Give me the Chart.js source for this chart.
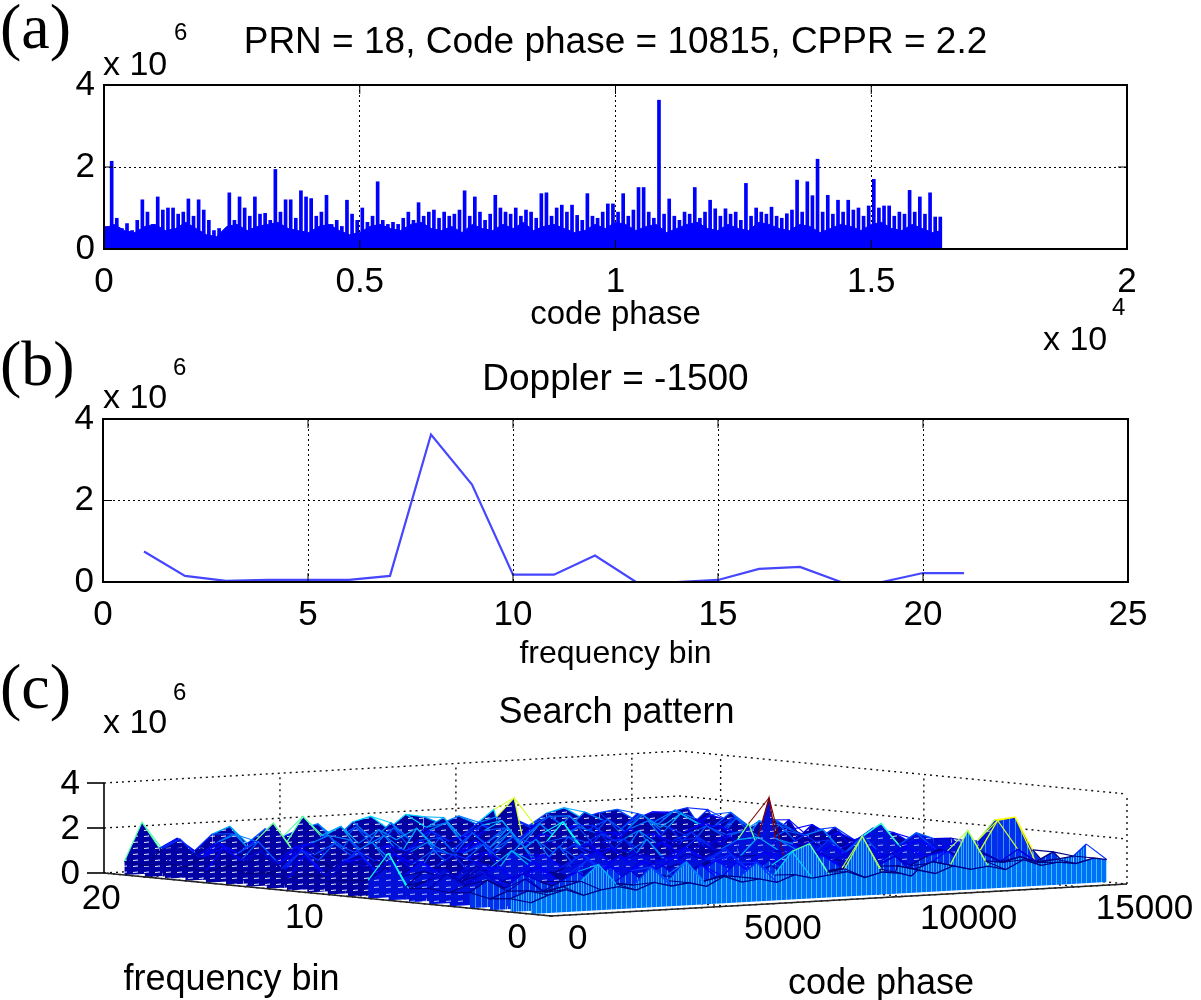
<!DOCTYPE html>
<html>
<head>
<meta charset="utf-8">
<title>PRN 18 acquisition</title>
<script src="https://cdn.jsdelivr.net/npm/chart.js@4.4.1/dist/chart.umd.min.js"></script>
<style>
  html, body { margin: 0; padding: 0; background: #fff; }
  #page { position: relative; width: 1201px; height: 1000px; overflow: hidden; font-family: "Liberation Sans", Arial, sans-serif; color: #000; }
  #page canvas { position: absolute; left: 0; }
  .tag { position: absolute; left: 0; font-family: "Liberation Serif", "Times New Roman", serif; font-size: 64px; line-height: 1; }
  .mult { position: absolute; font-size: 34px; line-height: 1; white-space: nowrap; }
  .exp { position: absolute; font-size: 24px; line-height: 1; }
</style>
</head>
<body>
<div id="page">
  <canvas id="chartA" width="1201" height="360" style="top:0"></canvas>
  <canvas id="chartB" width="1201" height="360" style="top:330px"></canvas>
  <canvas id="chartC" width="1201" height="340" style="top:660px"></canvas>

  <div class="tag" style="top:-5px">(a)</div>
  <div class="tag" style="top:332px">(b)</div>
  <div class="tag" style="top:655px">(c)</div>

  <div class="mult" style="left:103px;top:46px">x 10</div><div class="exp" style="left:174px;top:20px">6</div>
  <div class="mult" style="left:1043px;top:321px">x 10</div><div class="exp" style="left:1112px;top:295px">4</div>
  <div class="mult" style="left:103px;top:379px">x 10</div><div class="exp" style="left:173px;top:355px">6</div>
  <div class="mult" style="left:103px;top:704px">x 10</div><div class="exp" style="left:173px;top:680px">6</div>
</div>

<script>
"use strict";

/**************************************************************
 * Data (correlation values in units of 1e6)
 **************************************************************/

// (a) correlation vs code phase at Doppler bin 8, max value per 100 chips
const codeStepA = 100;
const peakA = [
  0.55, 2.14, 0.75, 0.5, 0.62, 0.45, 0.7, 1.2, 0.9, 0.6,
  1.27, 0.95, 1.0, 1.0, 0.85, 0.9, 1.22, 0.8, 1.2, 0.95,
  0.7, 0.45, 0.5, 0.4, 1.37, 0.7, 1.27, 1.0, 0.8, 1.27,
  0.85, 0.87, 0.7, 1.94, 0.9, 1.2, 1.2, 0.75, 1.42, 1.27,
  1.23, 0.8, 0.9, 1.31, 0.6, 0.7, 0.55, 1.19, 0.85, 0.7,
  1.0, 0.65, 0.8, 1.64, 0.7, 0.6, 0.65, 0.6, 0.75, 0.9,
  0.7, 1.13, 0.8, 0.9, 0.95, 0.75, 0.9, 0.8, 0.85, 0.95,
  1.42, 0.8, 1.27, 0.9, 0.7, 0.85, 1.31, 1.0, 0.9, 0.85,
  1.0, 0.8, 0.95, 0.9, 0.75, 1.35, 1.37, 0.8, 1.0, 1.07,
  0.9, 1.07, 0.82, 0.7, 1.35, 0.8, 0.75, 0.9, 1.1, 1.1,
  0.9, 1.35, 0.8, 0.95, 1.5, 1.5, 0.9, 0.75, 3.63, 0.85,
  1.22, 0.8, 0.7, 0.9, 0.85, 1.5, 0.75, 0.9, 1.19, 0.98,
  0.8, 0.98, 0.85, 0.9, 0.7, 1.6, 0.8, 1.0, 0.9, 0.85,
  1.02, 0.8, 0.75, 0.86, 0.95, 1.68, 0.9, 1.64, 1.3, 2.19,
  0.9, 1.31, 0.85, 1.19, 0.9, 1.19, 0.95, 1.0, 0.8, 1.05,
  1.7, 1.0, 1.05, 1.05, 0.8, 0.9, 0.85, 1.43, 0.9, 1.27,
  0.85, 1.37, 0.78, 0.78,
];

// (a) solid noise floor, every 200 chips
const floorStepA = 200;
const codeLength = 16368;
const floorA = [
  0.5, 0.6, 0.45, 0.4, 0.55, 0.6, 0.45, 0.5, 0.65, 0.5,
  0.35, 0.3, 0.55, 0.6, 0.45, 0.55, 0.6, 0.65, 0.5, 0.45,
  0.4, 0.55, 0.6, 0.45, 0.35, 0.4, 0.55, 0.6, 0.5, 0.45,
  0.6, 0.65, 0.5, 0.45, 0.55, 0.4, 0.6, 0.5, 0.45, 0.6,
  0.5, 0.65, 0.45, 0.55, 0.6, 0.5, 0.4, 0.45, 0.6, 0.5,
  0.65, 0.6, 0.45, 0.55, 0.6, 0.4, 0.5, 0.6, 0.65, 0.5,
  0.45, 0.6, 0.5, 0.45, 0.65, 0.6, 0.5, 0.45, 0.6, 0.55,
  0.4, 0.5, 0.6, 0.55, 0.45, 0.6, 0.65, 0.5, 0.45, 0.6,
  0.5, 0.4, 0.45,
];

// (b) correlation vs frequency bin at code phase 10815
const freqBins = [1, 2, 3, 4, 5, 6, 7, 8, 9, 10, 11, 12, 13, 14, 15, 16, 17, 18, 19, 20, 21];
const dopplerSlice = [0.75, 0.15, 0.03, 0.05, 0.05, 0.05, 0.15, 3.62, 2.39, 0.18, 0.18, 0.65, 0.0, 0.0, 0.05, 0.32, 0.37, 0.0, 0.0, 0.22, 0.22];

// (c) search pattern, one row per frequency bin, sampled code phases
const meshCodePhase = [
  0, 500, 1000, 1500, 2000, 2500, 3000, 3500, 4000, 4500, 5000, 5500,
  6000, 6500, 7000, 7500, 8000, 8500, 9000, 9500, 10000, 10500, 10815,
  11000, 11500, 12000, 12500, 13000, 13500, 14000, 14500, 15000, 15500,
  16000, 16368,
];
const meshFreqBins = freqBins;
const meshValues = [
  [0.5, 0.8, 1.0, 0.7, 0.9, 1.0, 0.8, 1.1, 0.9, 1.0, 0.8, 1.2, 0.9, 1.0, 0.8, 1.1, 0.9, 1.0, 1.1, 0.8, 1.0, 0.9, 0.75, 1.0, 0.8, 1.1, 0.9, 1.0, 0.8, 1.2, 0.9, 1.0, 0.9, 1.1, 1.0],
  [0.6, 0.9, 0.8, 1.0, 1.2, 1.9, 1.0, 0.9, 1.65, 1.0, 1.8, 0.9, 1.1, 1.0, 1.6, 1.0, 2.0, 2.3, 1.0, 1.1, 2.5, 1.0, 0.15, 1.1, 0.9, 1.2, 1.0, 2.5, 1.1, 1.0, 1.2, 0.9, 1.0, 1.1, 1.6],
  [0.5, 0.8, 1.3, 0.7, 1.1, 1.5, 0.8, 0.9, 1.4, 0.7, 1.1, 0.9, 1.5, 0.8, 1.5, 0.9, 1.3, 0.7, 1.4, 0.9, 1.0, 1.3, 0.03, 1.0, 1.4, 0.7, 1.0, 1.5, 0.8, 1.3, 0.9, 1.4, 0.8, 1.2, 0.6],
  [0.7, 1.2, 0.8, 1.4, 1.0, 0.7, 1.3, 1.0, 1.5, 0.8, 1.1, 1.4, 0.7, 1.0, 1.5, 1.0, 0.8, 1.4, 1.0, 0.7, 1.5, 1.0, 0.05, 1.3, 0.9, 1.4, 0.8, 1.2, 1.4, 0.9, 1.3, 2.6, 2.7, 1.2, 0.5],
  [0.6, 0.9, 1.4, 1.0, 0.7, 1.5, 1.0, 0.8, 1.3, 1.0, 0.7, 1.5, 1.0, 1.3, 0.8, 1.1, 1.6, 0.9, 0.8, 1.4, 1.0, 1.4, 0.05, 0.9, 1.4, 1.0, 0.7, 1.5, 1.0, 1.3, 1.0, 1.6, 2.5, 2.4, 0.6],
  [0.7, 1.3, 0.8, 1.2, 1.5, 0.8, 1.4, 1.0, 0.8, 1.6, 1.0, 0.7, 1.4, 1.0, 1.5, 0.8, 1.2, 1.4, 0.8, 1.5, 1.0, 1.2, 0.05, 1.4, 1.0, 0.8, 1.5, 1.0, 1.4, 0.8, 1.2, 1.5, 1.0, 0.9, 0.6],
  [0.6, 0.9, 1.4, 0.8, 1.3, 1.0, 0.8, 1.5, 1.0, 0.8, 1.4, 1.0, 1.5, 0.8, 1.2, 1.4, 0.7, 1.1, 1.6, 0.8, 1.2, 1.4, 0.15, 1.4, 0.9, 1.5, 1.0, 1.3, 0.8, 1.2, 1.5, 1.0, 0.8, 1.3, 0.5],
  [2.1, 0.6, 1.2, 0.9, 0.7, 1.3, 0.85, 1.9, 1.2, 0.7, 1.0, 1.6, 0.9, 1.0, 1.4, 1.3, 0.9, 1.35, 1.0, 1.35, 1.1, 1.9, 3.62, 1.8, 1.5, 0.9, 1.6, 1.0, 1.7, 2.2, 1.2, 1.7, 1.4, 1.37, 0.78],
  [0.8, 1.3, 0.9, 1.5, 1.0, 0.8, 1.4, 1.1, 0.7, 1.3, 1.5, 0.9, 1.2, 1.5, 0.8, 1.4, 1.0, 0.8, 1.5, 1.0, 1.3, 1.7, 2.39, 1.6, 1.0, 0.8, 1.4, 1.1, 0.8, 1.5, 1.0, 0.8, 1.3, 1.1, 0.6],
  [0.7, 1.3, 0.6, 1.5, 0.8, 1.1, 1.6, 0.7, 1.2, 0.6, 1.4, 0.9, 1.7, 0.7, 1.1, 1.5, 0.8, 1.8, 0.9, 0.7, 1.4, 1.1, 0.18, 1.3, 1.5, 0.7, 1.2, 1.6, 1.8, 0.9, 0.7, 1.3, 1.5, 1.0, 0.6],
  [0.6, 1.4, 1.5, 0.7, 1.2, 0.6, 1.7, 1.0, 0.7, 1.5, 1.0, 1.8, 0.7, 1.2, 1.6, 1.3, 0.6, 1.1, 0.7, 1.5, 1.0, 1.6, 0.18, 1.4, 1.0, 0.7, 1.3, 1.7, 0.9, 0.6, 1.5, 1.1, 1.6, 0.8, 0.5],
  [0.8, 0.7, 1.3, 1.6, 0.7, 1.5, 1.0, 0.6, 1.4, 1.1, 1.7, 0.7, 1.2, 1.8, 0.7, 1.1, 1.5, 0.8, 1.6, 1.0, 0.7, 1.4, 0.65, 1.2, 0.7, 1.5, 1.7, 1.0, 0.7, 1.4, 1.1, 1.6, 0.8, 1.2, 0.6],
  [0.5, 1.5, 0.8, 0.6, 1.6, 1.1, 0.7, 1.4, 1.8, 0.8, 1.2, 1.6, 0.6, 1.1, 1.5, 0.8, 1.7, 1.0, 1.4, 0.7, 1.8, 1.2, 0.0, 0.9, 1.6, 1.0, 1.4, 0.7, 1.1, 1.7, 0.8, 1.4, 1.0, 0.8, 0.5],
  [0.7, 0.8, 1.6, 1.1, 0.7, 1.4, 1.8, 1.0, 0.6, 1.6, 1.2, 0.8, 1.5, 1.0, 1.7, 0.7, 1.4, 1.1, 0.8, 1.6, 1.2, 0.7, 0.0, 1.5, 1.1, 0.8, 1.7, 1.2, 0.8, 1.8, 1.1, 0.8, 1.5, 1.0, 0.6],
  [0.6, 1.3, 0.7, 1.5, 0.9, 1.7, 1.1, 0.7, 1.5, 1.2, 0.7, 1.7, 0.9, 1.5, 1.0, 1.8, 0.8, 1.2, 2.1, 1.0, 0.8, 1.5, 0.05, 1.2, 0.8, 1.6, 1.2, 0.7, 1.5, 1.1, 0.8, 1.7, 1.2, 0.8, 0.5],
  [0.8, 1.0, 1.4, 0.8, 1.5, 1.1, 0.7, 1.7, 1.0, 1.8, 0.8, 1.5, 1.1, 0.8, 1.7, 1.0, 1.8, 0.8, 1.5, 1.1, 1.7, 1.4, 0.32, 0.9, 1.5, 1.8, 0.8, 1.2, 1.5, 0.8, 1.7, 1.1, 0.8, 1.5, 0.6],
  [0.5, 1.5, 0.9, 1.7, 0.8, 1.2, 1.5, 1.8, 0.8, 1.2, 1.6, 0.7, 1.9, 1.0, 0.8, 1.5, 1.1, 1.7, 0.9, 1.8, 1.1, 0.9, 0.37, 1.6, 1.0, 0.8, 1.5, 1.1, 1.9, 1.4, 0.8, 1.6, 1.1, 1.4, 0.5],
  [0.6, 1.0, 1.5, 1.1, 1.6, 2.35, 1.2, 0.8, 1.7, 1.1, 0.8, 1.8, 1.3, 0.7, 1.6, 1.1, 0.8, 1.5, 1.9, 0.9, 1.6, 1.2, 0.0, 1.5, 0.9, 1.7, 1.1, 1.8, 1.2, 0.8, 1.5, 1.1, 1.7, 0.9, 0.6],
  [0.7, 1.3, 0.8, 1.5, 1.8, 0.9, 1.6, 1.1, 0.8, 1.5, 1.9, 1.1, 0.8, 1.7, 1.1, 1.5, 1.8, 0.8, 1.6, 1.2, 0.8, 1.5, 0.0, 0.9, 1.8, 1.1, 1.5, 0.8, 1.7, 1.2, 1.8, 0.9, 1.5, 1.2, 0.5],
  [0.5, 1.2, 1.6, 0.8, 1.3, 1.7, 0.9, 1.5, 1.1, 2.3, 1.4, 0.9, 1.7, 1.1, 1.8, 0.9, 1.5, 1.9, 1.0, 1.6, 1.8, 2.6, 0.22, 1.2, 1.7, 1.1, 1.8, 1.4, 0.9, 1.6, 1.2, 1.5, 0.9, 1.6, 0.6],
  [0.6, 2.3, 1.1, 1.5, 0.9, 1.6, 1.9, 1.1, 1.7, 1.3, 1.6, 1.8, 1.1, 1.8, 2.0, 1.4, 2.0, 1.85, 1.5, 1.8, 1.4, 2.0, 0.22, 1.6, 1.2, 1.7, 1.9, 1.4, 1.6, 1.7, 1.2, 1.5, 1.45, 1.6, 0.7],
];
const meshCodeTicks = [0, 5000, 10000, 15000];
const meshFreqTicks = [0, 10, 20];
const meshZTicks = [0, 2, 4];

/**************************************************************
 * Shared style
 **************************************************************/
const FONT = '"Liberation Sans", Arial, sans-serif';
Chart.defaults.font.family = FONT;
Chart.defaults.color = "#000";

const BLUE = "#0000ff";

// MATLAB style box with inward tick marks
const boxFrame = {
  id: "boxFrame",
  afterDraw(chart) {
    const { ctx, chartArea: a, scales } = chart;
    ctx.save();
    ctx.strokeStyle = "#000";
    ctx.lineWidth = 1;
    scales.x.ticks.forEach((t) => {
      const px = scales.x.getPixelForValue(t.value);
      ctx.beginPath();
      ctx.moveTo(px, a.bottom);
      ctx.lineTo(px, a.bottom - 9);
      ctx.moveTo(px, a.top);
      ctx.lineTo(px, a.top + 9);
      ctx.stroke();
    });
    scales.y.ticks.forEach((t) => {
      const py = scales.y.getPixelForValue(t.value);
      ctx.beginPath();
      ctx.moveTo(a.left, py);
      ctx.lineTo(a.left + 9, py);
      ctx.moveTo(a.right, py);
      ctx.lineTo(a.right - 9, py);
      ctx.stroke();
    });
    ctx.lineWidth = 2;
    ctx.strokeRect(a.left, a.top, a.right - a.left, a.bottom - a.top);
    ctx.restore();
  },
};

function axisStyle(extra) {
  return Object.assign(
    {
      grid: { color: "#000", lineWidth: 1, drawTicks: false, offset: false },
      border: { display: false, dash: [2, 3] },
    },
    extra,
  );
}

function tickStyle(padding, extra) {
  return Object.assign({ font: { size: 35 }, color: "#000", padding: padding, maxRotation: 0, autoSkip: false }, extra);
}

const baseOptions = {
  responsive: false,
  animation: false,
  devicePixelRatio: 1,
  events: [],
};

/**************************************************************
 * (a) code phase
 **************************************************************/
new Chart(document.getElementById("chartA"), {
  type: "bar",
  data: {
    datasets: [
      {
        type: "line",
        label: "floor",
        data: floorA.map((v, i) => ({ x: Math.min(i * floorStepA, codeLength), y: v })),
        fill: "origin",
        backgroundColor: BLUE,
        borderColor: BLUE,
        borderWidth: 1,
        pointRadius: 0,
      },
      {
        type: "bar",
        label: "correlation",
        data: peakA.map((v, i) => ({ x: i * codeStepA + codeStepA / 2, y: v })),
        backgroundColor: BLUE,
        barThickness: 3,
        grouped: false,
      },
    ],
  },
  options: {
    ...baseOptions,
    layout: { padding: { left: 0, right: 74, top: 0, bottom: 0 } },
    plugins: {
      legend: { display: false },
      tooltip: { enabled: false },
      title: {
        display: true,
        fullSize: false,
        text: "PRN = 18, Code phase = 10815, CPPR = 2.2",
        font: { size: 37, weight: "normal" },
        color: "#000",
        padding: { top: 21, bottom: 19.6 },
      },
    },
    scales: {
      x: axisStyle({
        type: "linear",
        min: 0,
        max: 20000,
        offset: false,
        ticks: tickStyle(12, { stepSize: 5000, callback: (v) => String(v / 1e4) }),
        title: { display: true, text: "code phase", font: { size: 33 }, color: "#000", padding: { top: 0, bottom: 25 } },
        afterFit: (s) => { s.height = 111; },
      }),
      y: axisStyle({
        min: 0,
        max: 4,
        ticks: tickStyle(9, { stepSize: 2 }),
        afterFit: (s) => { s.width = 104; },
      }),
    },
  },
  plugins: [boxFrame],
});

/**************************************************************
 * (b) Doppler
 **************************************************************/
new Chart(document.getElementById("chartB"), {
  type: "line",
  data: {
    datasets: [
      {
        label: "Doppler = -1500",
        data: freqBins.map((f, i) => ({ x: f, y: dopplerSlice[i] })),
        borderColor: "rgb(70,70,255)",
        borderWidth: 2.2,
        pointRadius: 0,
        fill: false,
      },
    ],
  },
  options: {
    ...baseOptions,
    layout: { padding: { left: 0, right: 73, top: 0, bottom: 0 } },
    plugins: {
      legend: { display: false },
      tooltip: { enabled: false },
      title: {
        display: true,
        fullSize: false,
        text: "Doppler = -1500",
        font: { size: 37, weight: "normal" },
        color: "#000",
        padding: { top: 27.8, bottom: 16.8 },
      },
    },
    scales: {
      x: axisStyle({
        type: "linear",
        min: 0,
        max: 25,
        ticks: tickStyle(12, { stepSize: 5 }),
        title: { display: true, text: "frequency bin", font: { size: 32 }, color: "#000", padding: { top: 0, bottom: 17 } },
        afterFit: (s) => { s.height = 108; },
      }),
      y: axisStyle({
        min: 0,
        max: 4,
        ticks: tickStyle(9, { stepSize: 2 }),
        afterFit: (s) => { s.width = 103; },
      }),
    },
  },
  plugins: [boxFrame],
});

/**************************************************************
 * (c) Search pattern, drawn as an orthographic 3D view
 **************************************************************/
const C_MAX = codeLength;
const F_MAX = 22;
const Z_TOP = 4;
// view: front corner and the screen vectors of the code / frequency / height axes
const VIEW = { x0: 551, y0: 916, cx: 576, cy: -32, fx: -447, fy: -43, zy: -22.5 };

function project(c, f, z) {
  return {
    x: VIEW.x0 + (c / C_MAX) * VIEW.cx + (f / F_MAX) * VIEW.fx,
    y: VIEW.y0 + (c / C_MAX) * VIEW.cy + (f / F_MAX) * VIEW.fy + z * VIEW.zy,
  };
}

function jet(t) {
  const k = (v) => Math.round(Math.max(0, Math.min(1, v)) * 255);
  return `rgb(${k(1.5 - Math.abs(4 * t - 3))},${k(1.5 - Math.abs(4 * t - 2))},${k(1.5 - Math.abs(4 * t - 1))})`;
}

function meshColor(z) {
  return jet(Math.max(0, Math.min(1, (z - 1.2) / 2.4)));
}

// mesh face textures: dense edges with white gaps
function streakPattern(base, streak, w, h, lines) {
  const tile = document.createElement("canvas");
  tile.width = w;
  tile.height = h;
  const g = tile.getContext("2d");
  g.fillStyle = base;
  g.fillRect(0, 0, w, h);
  g.strokeStyle = streak;
  g.lineWidth = 1;
  lines.forEach(([x0, y0, x1, y1]) => {
    g.beginPath();
    g.moveTo(x0, y0);
    g.lineTo(x1, y1);
    g.stroke();
  });
  return g.createPattern(tile, "repeat");
}

const FACE = {
  back: streakPattern("#0000a4", "#e8ecff", 11, 6, [[1, 2.5, 6, 2]]),
  mid: streakPattern("#0010d8", "#a8b8ff", 12, 7, [[2, 3.5, 7, 3]]),
  near: streakPattern("#0030ec", "#3898ff", 6, 8, [[1.5, 0, 1.5, 8]]),
  front2: streakPattern("#0050f4", "#28b0ff", 5, 8, [[1.5, 0, 1.5, 8], [3.5, 0, 3.5, 8]]),
  front1: streakPattern("#0070f8", "#30c8ff", 5, 8, [[1.5, 0, 1.5, 8]]),
};

function rowFill(f) {
  if (f <= 1) return FACE.front1;
  if (f <= 2) return FACE.front2;
  if (f <= 4) return FACE.near;
  if (f <= 9) return FACE.mid;
  return FACE.back;
}

function lineSet(points, opts) {
  return Object.assign(
    { data: points, borderColor: "#000", borderWidth: 1.3, pointRadius: 0, fill: false, order: 200 },
    opts,
  );
}

const gridSets = [];
const dotted = { borderDash: [2, 4], borderColor: "#111", borderWidth: 1.4 };
meshZTicks.forEach((z) => {
  gridSets.push(lineSet([project(0, F_MAX, z), project(C_MAX, F_MAX, z), project(C_MAX, 0, z)], dotted));
});
meshCodeTicks.forEach((c) => {
  if (c > 0) gridSets.push(lineSet([project(c, F_MAX, 0), project(c, F_MAX, Z_TOP)], dotted));
  gridSets.push(lineSet([project(c, 0, 0), project(c, F_MAX, 0)], dotted));
});
meshFreqTicks.forEach((f) => {
  gridSets.push(lineSet([project(C_MAX, f, 0), project(C_MAX, f, Z_TOP)], dotted));
  gridSets.push(lineSet([project(0, f, 0), project(C_MAX, f, 0)], dotted));
});

const meshSets = [];
const lastCode = meshCodePhase[meshCodePhase.length - 1];
meshFreqBins.forEach((f, r) => {
  const row = meshValues[r];
  // row edge, filled down to its own floor line (painter order: back rows first)
  meshSets.push({
    label: "bin " + f,
    data: meshCodePhase.map((c, j) => project(c, f, row[j])),
    borderColor: "#00007a",
    borderWidth: 1.3,
    backgroundColor: rowFill(f),
    fill: "+1",
    pointRadius: 0,
    order: f,
    segment: {
      borderColor: (ctx) => meshColor(Math.max(row[ctx.p0DataIndex], row[ctx.p1DataIndex])),
    },
  });
  meshSets.push({
    label: "base " + f,
    data: [project(0, f, 0), project(lastCode, f, 0)],
    borderColor: "rgba(0,0,0,0)",
    borderWidth: 0,
    pointRadius: 0,
    fill: false,
    order: f,
  });
  // mesh edges running along frequency, between this row and the next one behind it
  if (r < meshFreqBins.length - 1) {
    const next = meshValues[r + 1];
    const pts = [];
    const zs = [];
    meshCodePhase.forEach((c, j) => {
      pts.push(project(c, f, row[j]), project(c, meshFreqBins[r + 1], next[j]), { x: NaN, y: NaN });
      zs.push(row[j], next[j], 0);
    });
    meshSets.push({
      label: "edges " + f,
      data: pts,
      borderColor: "#00008a",
      borderWidth: 1.1,
      pointRadius: 0,
      fill: false,
      spanGaps: false,
      order: f + 0.5,
      segment: {
        borderColor: (ctx) => meshColor(Math.max(zs[ctx.p0DataIndex], zs[ctx.p1DataIndex])),
      },
    });
  }
});

const axisSets = [
  lineSet([project(0, F_MAX, 0), project(0, F_MAX, Z_TOP)], { borderWidth: 1.6, order: 0 }),
  lineSet([project(0, F_MAX, 0), project(0, 0, 0), project(C_MAX, 0, 0)], { borderColor: "#222", borderWidth: 1.4, order: 0 }),
];

// labels for the 3D axes
const meshAxes = {
  id: "meshAxes",
  afterDraw(chart) {
    const { ctx, scales } = chart;
    const px = (p) => ({ x: scales.x.getPixelForValue(p.x), y: scales.y.getPixelForValue(p.y) });
    ctx.save();
    ctx.fillStyle = "#000";
    ctx.strokeStyle = "#000";
    ctx.lineWidth = 1.6;
    ctx.font = `35px ${FONT}`;
    ctx.textBaseline = "middle";
    ctx.textAlign = "right";
    meshZTicks.forEach((z) => {
      const p = px(project(0, F_MAX, z));
      ctx.beginPath();
      ctx.moveTo(p.x, p.y);
      ctx.lineTo(p.x - 17, p.y);
      ctx.stroke();
      ctx.fillText(String(z), p.x - 24, p.y + 1);
    });
    meshFreqTicks.forEach((f) => {
      const p = px(project(0, f, 0));
      ctx.fillText(String(f), p.x - 24, p.y + 22);
    });
    ctx.textAlign = "left";
    meshCodeTicks.forEach((c) => {
      const p = px(project(c, 0, 0));
      ctx.fillText(String(c), p.x + 17, p.y + 23);
    });
    ctx.font = `36px ${FONT}`;
    ctx.textAlign = "center";
    const fm = px(project(0, F_MAX / 2, 0));
    ctx.fillText("frequency bin", fm.x - 96, fm.y + 86);
    const cm = px(project(C_MAX / 2, 0, 0));
    ctx.fillText("code phase", cm.x + 42, cm.y + 84);
    ctx.restore();
  },
};

new Chart(document.getElementById("chartC"), {
  type: "line",
  data: { datasets: [...gridSets, ...meshSets, ...axisSets] },
  options: {
    ...baseOptions,
    layout: { padding: { left: 32, right: 0, top: 0, bottom: 0 } },
    plugins: {
      legend: { display: false },
      tooltip: { enabled: false },
      title: {
        display: true,
        fullSize: false,
        text: "Search pattern",
        font: { size: 36, weight: "normal" },
        color: "#000",
        padding: { top: 31.4, bottom: 10.4 },
      },
    },
    scales: {
      x: { type: "linear", display: false, min: 32, max: 1201 },
      y: { type: "linear", display: false, min: 745, max: 1000, reverse: true },
    },
  },
  plugins: [meshAxes],
});
</script>
</body>
</html>
